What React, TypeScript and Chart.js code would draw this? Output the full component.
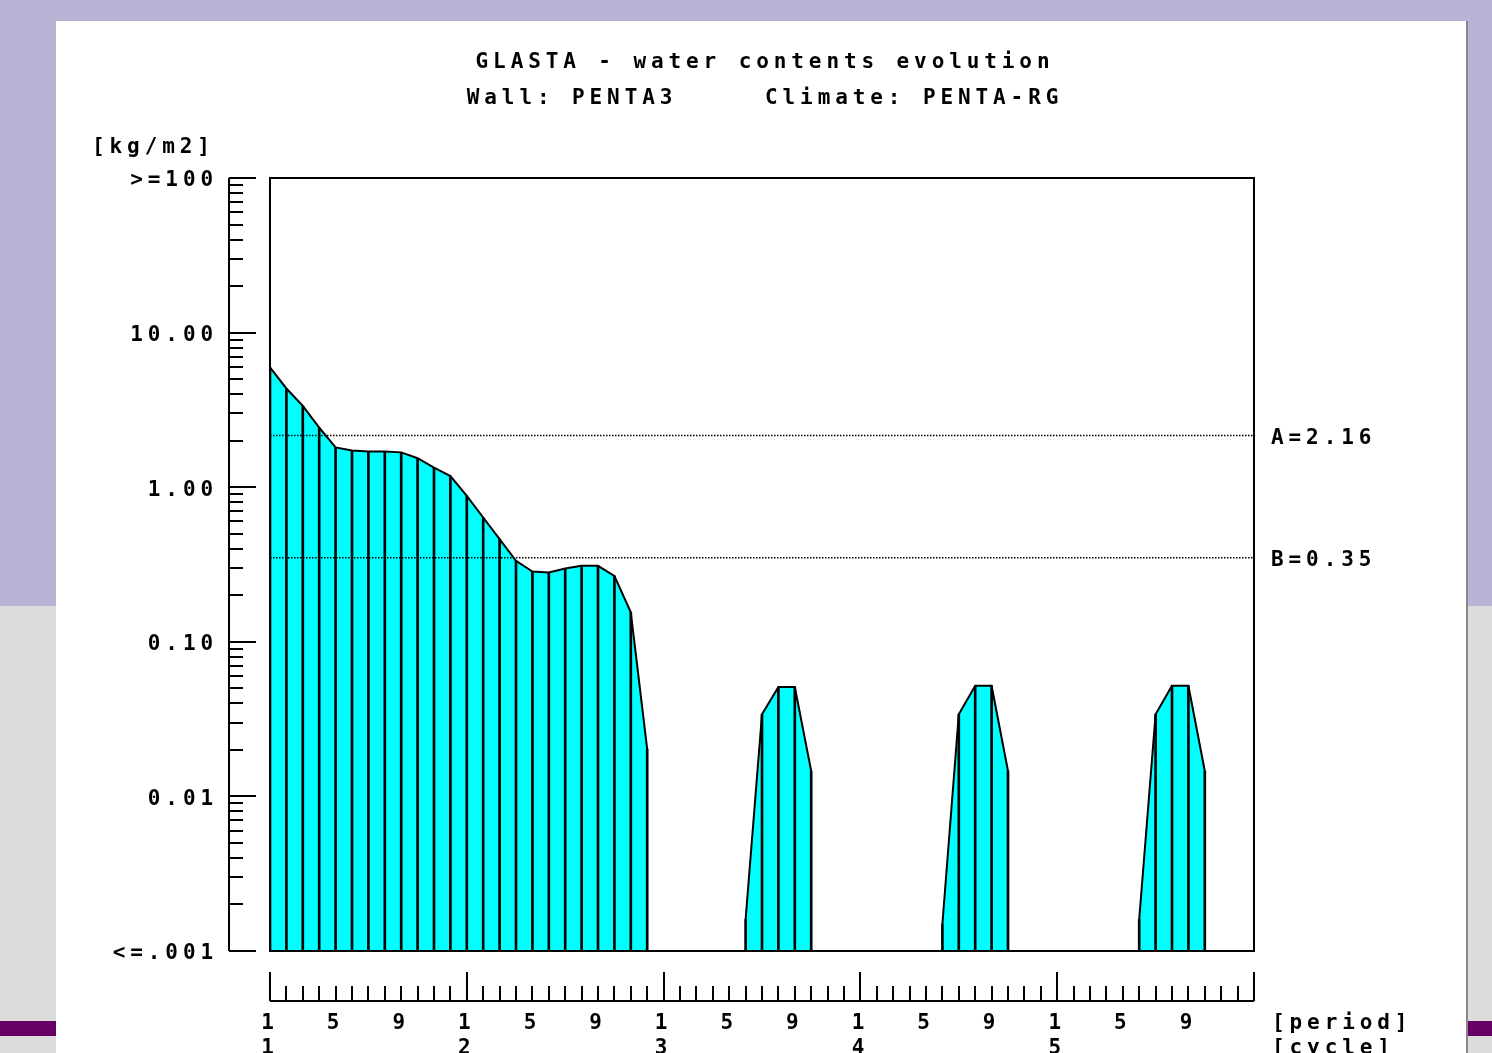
import React, { useEffect, useRef } from 'react';
import { Chart, registerables } from 'chart.js';

Chart.register(...registerables);

// ---------- data ----------
const TITLE_LINES = ['GLASTA - water contents evolution', 'Wall: PENTA3     Climate: PENTA-RG'];
const Y_UNIT = '[kg/m2]';
const Y_TICK_VALUES = [0.001, 0.01, 0.1, 1, 10, 100];
const Y_TICK_LABELS = ['<=.001', '0.01', '0.10', '1.00', '10.00', '>=100'];
const Y_MINOR_MULTIPLIERS = [2, 3, 4, 5, 6, 7, 8, 9];
const CYCLE_LABELS = ['1', '2', '3', '4', '5'];
const PERIODS_PER_CYCLE = 12;
const LABELLED_PERIODS = [1, 5, 9];
const X_UNIT_PERIOD = '[period]';
const X_UNIT_CYCLE = '[cycle]';

// water contents [kg/m2] per period; null = below 0.001
const CYCLE1 = [5.95, 4.35, 3.36, 2.43, 1.81, 1.73, 1.7, 1.7, 1.68, 1.54, 1.34, 1.18];
const CYCLE2 = [0.879, 0.637, 0.461, 0.334, 0.285, 0.281, 0.298, 0.31, 0.31, 0.267, 0.155, 0.0202];
const CYCLE3 = [null, null, null, null, null, 0.0016, 0.034, 0.051, 0.051, 0.0146, null, null];
const CYCLE4 = [null, null, null, null, null, 0.0015, 0.034, 0.052, 0.052, 0.0146, null, null];
const CYCLE5 = [null, null, null, null, null, 0.0016, 0.034, 0.052, 0.052, 0.0146, null, null];

const THRESHOLD_NAMES = ['A', 'B'];
const THRESHOLD_VALUES = [2.16, 0.35];

// ---------- style ----------
const FONT_FAMILY = '"DejaVu Sans Mono", "Liberation Mono", monospace';
const FONT_SIZE = 21;
const LETTER_SPACING = '4.9px';
const FILL = '#00ffff';

const setSpacing = (chart: any) => {
  (chart.ctx as any).letterSpacing = LETTER_SPACING;
};

const spacingPlugin = {
  id: 'letterSpacingPlugin',
  beforeUpdate: setSpacing,
  beforeLayout: setSpacing,
  beforeDraw: setSpacing,
};

const decorPlugin = {
  id: 'decorPlugin',
  afterDraw(chart: any) {
    const { ctx, chartArea: ca, scales } = chart;
    const x = scales.x;
    const y = scales.y;
    ctx.save();
    ctx.letterSpacing = LETTER_SPACING;
    ctx.strokeStyle = '#000';
    ctx.lineWidth = 2;
    const line = (x1: number, y1: number, x2: number, y2: number) => {
      ctx.beginPath();
      ctx.moveTo(x1, y1);
      ctx.lineTo(x2, y2);
      ctx.stroke();
    };
    // frame
    ctx.strokeRect(ca.left, ca.top, ca.right - ca.left, ca.bottom - ca.top);

    // separate y axis with inward ticks
    const ax = ca.left - 41;
    const yTop = y.getPixelForValue(Y_TICK_VALUES[Y_TICK_VALUES.length - 1]);
    const yBot = y.getPixelForValue(Y_TICK_VALUES[0]);
    line(ax, yTop, ax, yBot);
    Y_TICK_VALUES.forEach((v) => {
      const py = Math.round(y.getPixelForValue(v));
      line(ax, py, ax + 27, py);
    });
    Y_TICK_VALUES.slice(0, -1).forEach((d) => {
      Y_MINOR_MULTIPLIERS.forEach((m) => {
        const py = Math.round(y.getPixelForValue(d * m));
        line(ax, py, ax + 14, py);
      });
    });

    // separate x axis with upward ticks
    const by = ca.bottom + 50;
    const nPer = CYCLE_LABELS.length * PERIODS_PER_CYCLE;
    line(x.getPixelForValue(1), by, x.getPixelForValue(nPer + 1), by);
    for (let b = 0; b <= nPer; b++) {
      const px = Math.round(x.getPixelForValue(b + 1));
      const big = b % PERIODS_PER_CYCLE === 0;
      line(px, by, px, by - (big ? 29 : 15));
    }

    // texts
    ctx.fillStyle = '#000';
    ctx.font = `bold ${FONT_SIZE}px ${FONT_FAMILY}`;
    ctx.textBaseline = 'middle';
    ctx.textAlign = 'left';
    ctx.fillText(Y_UNIT, 36, ca.top - 30);
    THRESHOLD_NAMES.forEach((n, i) => {
      const v = THRESHOLD_VALUES[i];
      ctx.fillText(`${n}=${v.toFixed(2)}`, ca.right + 17, y.getPixelForValue(v) + 3);
    });
    ctx.fillText(X_UNIT_PERIOD, ca.right + 18, ca.bottom + 73);
    ctx.fillText(X_UNIT_CYCLE, ca.right + 18, ca.bottom + 98);
    ctx.restore();
  },
};

export default function App() {
  const ref = useRef<HTMLCanvasElement | null>(null);

  useEffect(() => {
    const canvas = ref.current;
    if (!canvas) return;
    const values = [...CYCLE1, ...CYCLE2, ...CYCLE3, ...CYCLE4, ...CYCLE5];
    const points = values.map((v, i) => ({ x: i + 1, y: v }));
    const nPer = values.length;
    const font = { family: FONT_FAMILY, size: FONT_SIZE, weight: 'bold' as const };

    const thresholdSets = THRESHOLD_VALUES.map((v, i) => ({
      type: 'line' as const,
      label: THRESHOLD_NAMES[i],
      data: [
        { x: 1, y: v },
        { x: nPer + 1, y: v },
      ],
      borderColor: '#000',
      borderWidth: 1.5,
      borderDash: [1.5, 1.5],
      pointRadius: 0,
      fill: false,
      order: 0,
    }));

    const chart = new Chart(canvas, {
      type: 'line',
      data: {
        datasets: [
          {
            type: 'line',
            label: 'water contents',
            data: points as any,
            borderColor: '#000',
            borderWidth: 2,
            backgroundColor: FILL,
            fill: 'start',
            pointRadius: 0,
            tension: 0,
            spanGaps: false,
            order: 2,
          },
          {
            type: 'bar',
            label: 'periods',
            data: points as any,
            backgroundColor: '#000',
            barThickness: 2,
            order: 1,
          } as any,
          ...thresholdSets,
        ],
      },
      options: {
        animation: false,
        responsive: false,
        devicePixelRatio: 1,
        layout: { padding: { left: 8, right: 0, top: 0, bottom: 0 } },
        plugins: {
          legend: { display: false },
          tooltip: { enabled: false },
          title: {
            display: true,
            text: TITLE_LINES,
            color: '#000',
            font: { ...font, lineHeight: 36 / FONT_SIZE },
            padding: { top: 24, bottom: 61 },
          },
        },
        scales: {
          x: {
            type: 'linear',
            min: 1,
            max: nPer + 1,
            offset: false,
            grid: { display: false, drawTicks: false },
            border: { display: false },
            afterBuildTicks: (s: any) => {
              s.ticks = values.map((_, i) => ({ value: i + 1 }));
            },
            afterFit: (s: any) => {
              s.height = 102;
            },
            ticks: {
              autoSkip: false,
              maxRotation: 0,
              minRotation: 0,
              padding: 60.5,
              color: '#000',
              font: { ...font, lineHeight: 25 / FONT_SIZE },
              callback: (_v: any, index: number) => {
                const p = (index % PERIODS_PER_CYCLE) + 1;
                const c = Math.floor(index / PERIODS_PER_CYCLE);
                if (p === 1) return [String(p), CYCLE_LABELS[c]];
                if (LABELLED_PERIODS.includes(p)) return String(p);
                return '';
              },
            },
          },
          y: {
            type: 'logarithmic',
            min: Y_TICK_VALUES[0],
            max: Y_TICK_VALUES[Y_TICK_VALUES.length - 1],
            grid: { display: false, drawTicks: false },
            border: { display: false },
            afterBuildTicks: (s: any) => {
              s.ticks = Y_TICK_VALUES.map((v) => ({ value: v }));
            },
            afterFit: (s: any) => {
              s.width = 206;
            },
            ticks: {
              padding: 52,
              labelOffset: 3,
              color: '#000',
              font,
              callback: (_v: any, index: number) => Y_TICK_LABELS[index],
            },
          },
          yRight: {
            type: 'linear',
            position: 'right',
            display: true,
            grid: { display: false, drawTicks: false },
            border: { display: false },
            ticks: { display: false },
            afterFit: (s: any) => {
              s.width = 212;
            },
          },
        },
      },
      plugins: [spacingPlugin, decorPlugin],
    });
    return () => chart.destroy();
  }, []);

  return (
    <div
      style={{
        position: 'fixed',
        left: 0,
        top: 0,
        width: 1492,
        height: 1053,
        overflow: 'hidden',
        background: '#dcdcdc',
      }}
    >
      <div style={{ position: 'absolute', left: 0, top: 0, width: 1492, height: 606, background: '#b8b4d6' }} />
      <div style={{ position: 'absolute', left: 0, top: 1021, width: 1492, height: 15, background: '#660066' }} />
      <div
        style={{
          position: 'absolute',
          left: 56,
          top: 21,
          width: 1410,
          height: 1040,
          background: '#ffffff',
          borderRight: '2px solid #888888',
        }}
      >
        <canvas ref={ref} width={1410} height={1032} style={{ display: 'block' }} />
      </div>
    </div>
  );
}
